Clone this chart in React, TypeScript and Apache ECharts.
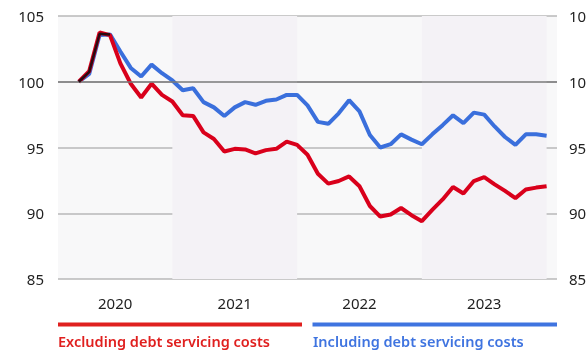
import React, { useEffect, useRef } from "react";
import * as echarts from "echarts";

// Month index: 0 = start of Jan 2020; points are month-end values (Mar 2020 .. Dec 2023)
const firstMonthIndex = 3;
const excludingDebt = [
  100, 100.8, 103.75, 103.55, 101.4, 99.85, 98.8, 99.85, 99.0, 98.5,
  97.45, 97.4, 96.15, 95.65, 94.7, 94.9, 94.85, 94.55, 94.8, 94.9, 95.45, 95.2,
  94.45, 93.0, 92.25, 92.45, 92.8, 92.05, 90.55, 89.75, 89.9, 90.4, 89.85, 89.4,
  90.25, 91.05, 92.0, 91.5, 92.45, 92.75, 92.2, 91.7, 91.15, 91.8, 91.95, 92.05,
];
const includingDebt = [
  100, 100.6, 103.55, 103.6, 102.3, 101.05, 100.4, 101.3, 100.65, 100.1,
  99.35, 99.5, 98.45, 98.05, 97.4, 98.05, 98.45, 98.25, 98.55, 98.65, 99.0, 99.0,
  98.2, 96.95, 96.8, 97.6, 98.6, 97.75, 95.95, 95.0, 95.25, 96.0, 95.6, 95.25,
  96.0, 96.7, 97.45, 96.85, 97.65, 97.5, 96.6, 95.8, 95.2, 96.0, 96.0, 95.9,
];
const overlapBoth = [100, 100.75, 103.65, 103.6];
const years = [2020, 2021, 2022, 2023];
const yearLabelPositions = [6.5, 18, 30, 42];
const yTicks = { min: 85, max: 105, interval: 5 };
const shadedYears = [2021, 2023];
const legendLabels = ["Excluding debt servicing costs", "Including debt servicing costs"];

const RED = "#d9001b";
const BLUE = "#3a6fdc";
const LEG_RED = "#e0201f";
const LEG_BLUE = "#3f74e0";
const FONT = "'Noto Sans', sans-serif";

const toPoints = (vals: number[]) => vals.map((v, i) => [firstMonthIndex + i, v]);

export default function App() {
  const ref = useRef<HTMLDivElement>(null);
  useEffect(() => {
    if (!ref.current) return;
    document.documentElement.style.overflow = "hidden";
    document.body.style.overflow = "hidden";
    document.body.style.margin = "0";
    const chart = echarts.init(ref.current, null, { renderer: "svg", width: 587, height: 350 });
    const yearStart = (y: number) => (y - 2020) * 12;
    chart.setOption({
      animation: false,
      grid: {
        left: 58,
        right: 30,
        top: 16,
        bottom: 71,
        containLabel: false,
        outerBoundsMode: "none",
        show: true,
        backgroundColor: "#f8f8f9",
        borderWidth: 0,
      },
      xAxis: {
        type: "value",
        min: 1,
        max: 49,
        axisLine: { show: false },
        axisTick: { show: false },
        splitLine: { show: false },
        axisLabel: {
          customValues: yearLabelPositions,
          formatter: (v: number) => String(years[Math.floor(v / 12)]),
          fontFamily: FONT,
          fontSize: 15,
          color: "#222",
          margin: 16,
        },
      },
      yAxis: [
        {
          type: "value",
          ...yTicks,
          axisLine: { show: false },
          axisTick: { show: false },
          axisLabel: { fontFamily: FONT, fontSize: 15, color: "#222", margin: 14 },
          splitLine: { lineStyle: { color: "#b8b8b8", width: 1.5 } },
        },
        {
          type: "value",
          ...yTicks,
          position: "right",
          axisLine: { show: false },
          axisTick: { show: false },
          axisLabel: { fontFamily: FONT, fontSize: 15, color: "#222", margin: 12 },
          splitLine: { show: false },
        },
      ],
      series: [
        {
          type: "line",
          name: legendLabels[1],
          data: toPoints(includingDebt),
          showSymbol: false,
          symbol: "none",
          lineStyle: { color: BLUE, width: 4 },
          z: 3,
          markArea: {
            silent: true,
            itemStyle: { color: "#f4f2f6", opacity: 1 },
            data: shadedYears.map((y) => [
              { xAxis: yearStart(y) },
              { xAxis: yearStart(y) + 12 },
            ]),
          },
          markLine: {
            silent: true,
            symbol: "none",
            label: { show: false },
            lineStyle: { color: "#7a7a7a", width: 1.5, type: "solid" },
            data: [{ yAxis: 100 }],
          },
        },
        {
          type: "line",
          name: legendLabels[0],
          data: toPoints(excludingDebt),
          showSymbol: false,
          symbol: "none",
          lineStyle: { color: RED, width: 4 },
          z: 4,
        },
        {
          type: "line",
          name: "overlap",
          data: toPoints(overlapBoth),
          showSymbol: false,
          symbol: "none",
          lineStyle: { color: "#2a0a12", width: 2.5 },
          z: 5,
        },
      ],
      graphic: [
        { type: "rect", shape: { x: 58, y: 322.5, width: 244, height: 4 }, style: { fill: LEG_RED } },
        { type: "rect", shape: { x: 312.5, y: 322.5, width: 244.5, height: 4 }, style: { fill: LEG_BLUE } },
        {
          type: "text",
          x: 58,
          y: 341,
          style: {
            text: legendLabels[0],
            fill: LEG_RED,
            font: `600 14.5px ${FONT}`,
            verticalAlign: "middle",
          },
        },
        {
          type: "text",
          x: 313,
          y: 341,
          style: {
            text: legendLabels[1],
            fill: LEG_BLUE,
            font: `600 14.5px ${FONT}`,
            verticalAlign: "middle",
          },
        },
      ],
    });
    return () => chart.dispose();
  }, []);
  return (
    <div
      ref={ref}
      style={{ position: "fixed", left: 0, top: 0, width: 587, height: 350, overflow: "hidden" }}
    />
  );
}
